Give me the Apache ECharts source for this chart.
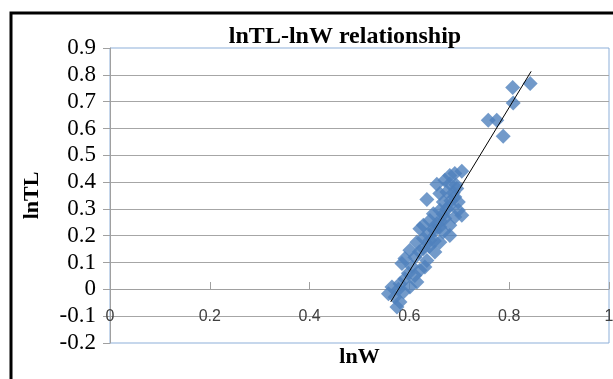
<!DOCTYPE html>
<html>
<head>
<meta charset="utf-8">
<title>lnTL-lnW relationship</title>
<script src="https://cdn.jsdelivr.net/npm/echarts@6/dist/echarts.min.js"></script>
<style>
  html, body { margin: 0; padding: 0; background: #fff; }
  #chart { width: 613px; height: 379px; }
</style>
</head>
<body>
<div id="chart"></div>
<script>
// values
const lnW = [
  0.705, 0.691, 0.681, 0.655, 0.671, 0.681, 0.635, 0.661, 0.675, 0.695,
  0.691, 0.698, 0.668, 0.681, 0.661, 0.698, 0.691, 0.705, 0.648, 0.641,
  0.671, 0.681, 0.628, 0.621, 0.661, 0.668, 0.651, 0.681, 0.615, 0.641,
  0.661, 0.601, 0.628, 0.651, 0.591, 0.585, 0.635, 0.621, 0.631, 0.611,
  0.615, 0.591, 0.581, 0.601, 0.565, 0.558, 0.571, 0.588, 0.575, 0.581,
  0.628, 0.638, 0.648, 0.655, 0.662, 0.668, 0.675, 0.683, 0.688, 0.693,
  0.611, 0.620, 0.605, 0.598, 0.578, 0.640, 0.650,
  0.842, 0.807, 0.808, 0.758, 0.775, 0.788
]
const lnTL = [
  0.440, 0.432, 0.425, 0.392, 0.407, 0.394, 0.335, 0.357, 0.363, 0.376,
  0.344, 0.326, 0.326, 0.313, 0.295, 0.295, 0.270, 0.276, 0.282, 0.257,
  0.264, 0.239, 0.239, 0.226, 0.233, 0.214, 0.220, 0.201, 0.176, 0.183,
  0.176, 0.146, 0.152, 0.139, 0.115, 0.096, 0.108, 0.071, 0.083, 0.052,
  0.027, 0.040, 0.021, 0.009, 0.009, -0.016, -0.029, -0.010, -0.066, -0.047,
  0.190, 0.205, 0.225, 0.245, 0.255, 0.280, 0.300, 0.330, 0.360, 0.390,
  0.120, 0.140, 0.085, 0.060, 0.000, 0.160, 0.180,
  0.768, 0.753, 0.695, 0.631, 0.631, 0.571
]
// trend line end points
const trendW = [0.5625, 0.844]
const trendTL = [-0.047, 0.813]

const xTicks = { min: 0, max: 1, step: 0.2 }
const yTicks = { min: -0.2, max: 0.9, step: 0.1 }

const chart = echarts.init(document.getElementById('chart'))

const fmt = v => String(+v.toFixed(1))

chart.setOption({
  animation: false,
  graphic: [
    {
      type: 'rect',
      shape: { x: 11, y: 13, width: 700, height: 500 },
      style: { fill: 'none', stroke: '#000', lineWidth: 3 },
      z: 100
    },
    {
      type: 'text',
      x: 345,
      y: 37,
      style: {
        text: 'lnTL-lnW relationship',
        fontFamily: 'Liberation Serif',
        fontWeight: 'bold',
        fontSize: 24,
        fill: '#000',
        textAlign: 'center',
        textVerticalAlign: 'middle'
      }
    }
  ],
  grid: {
    left: 110,
    right: 4,
    top: 48,
    bottom: 36,
    outerBoundsMode: 'none',
    show: true,
    borderColor: '#8DAFD9',
    borderWidth: 1
  },
  xAxis: {
    type: 'value',
    min: xTicks.min,
    max: xTicks.max,
    interval: xTicks.step,
    position: 'bottom',
    // the axis crosses at lnTL = 0, two steps above the bottom of the grid
    offset: -54,
    name: 'lnW',
    nameLocation: 'middle',
    nameGap: 57,
    nameMoveOverlap: false,
    nameTextStyle: {
      fontFamily: 'Liberation Serif',
      fontWeight: 'bold',
      fontSize: 22,
      color: '#000'
    },
    axisLine: { onZero: false, lineStyle: { color: '#A0A0A0' } },
    axisTick: { show: true, inside: true, length: 7, lineStyle: { color: '#A0A0A0' } },
    axisLabel: {
      margin: 20,
      formatter: fmt,
      fontFamily: 'Liberation Sans',
      fontSize: 16,
      color: '#404040'
    },
    splitLine: { show: false }
  },
  yAxis: {
    type: 'value',
    min: yTicks.min,
    max: yTicks.max,
    interval: yTicks.step,
    name: 'lnTL',
    nameLocation: 'middle',
    nameGap: 67,
    nameMoveOverlap: false,
    nameTextStyle: {
      fontFamily: 'Liberation Serif',
      fontWeight: 'bold',
      fontSize: 22,
      color: '#000'
    },
    axisLine: { show: true, lineStyle: { color: '#A0A0A0' } },
    axisTick: { show: true, length: 7, lineStyle: { color: '#A0A0A0' } },
    axisLabel: {
      margin: 14,
      formatter: fmt,
      fontFamily: 'Liberation Serif',
      fontSize: 23,
      color: '#000'
    },
    splitLine: {
      show: true,
      showMinLine: false,
      showMaxLine: false,
      lineStyle: { color: '#A6A6A6', width: 1 }
    }
  },
  series: [
    {
      type: 'scatter',
      symbol: 'diamond',
      symbolSize: 15,
      itemStyle: { color: '#4F81BD' },
      data: lnW.map((w, i) => [w, lnTL[i]])
    },
    {
      type: 'line',
      symbol: 'none',
      silent: true,
      lineStyle: { color: '#000', width: 1 },
      data: trendW.map((w, i) => [w, trendTL[i]]),
      z: 5
    }
  ]
})
</script>
</body>
</html>
